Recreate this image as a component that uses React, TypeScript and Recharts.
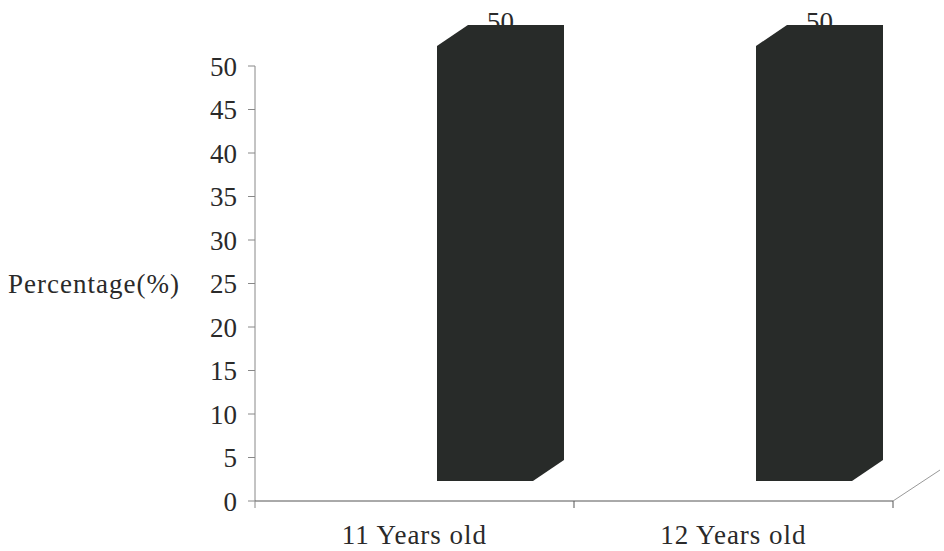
import { Bar, BarChart, XAxis, YAxis } from "recharts";

const ageGroups = ["11 Years old", "12 Years old"];
const percentages = [50, 50];
const yTicks = [0, 5, 10, 15, 20, 25, 30, 35, 40, 45, 50];

const data = ageGroups.map((age, i) => ({ age, pct: percentages[i] }));

const WIDTH = 944;
const HEIGHT = 551;
const MARGIN = { top: 66, right: 51, bottom: 0, left: 0 };
const Y_AXIS_W = 255;
const X_AXIS_H = 50;
const HALF_BAND = (WIDTH - MARGIN.right - Y_AXIS_W) / ageGroups.length / 2;

// the bars sit back from the floor edge, like the old 3-D column charts
const SHIFT_X = 70;
const SHIFT_Y = -20;
const DEPTH_X = 31;
const DEPTH_Y = -21;

const FONT = "'Liberation Serif', 'Times New Roman', serif";
const FONT_SIZE = 27;
const TEXT = "#2a2a2a";
const BAR_FILL = "#282b29";

// value label goes first so the column hides its lower edge, as in the scan
function Column3D(props: any) {
  const { x, y, width, height, payload } = props;
  const fx = x + SHIFT_X;
  const fy = y + SHIFT_Y;
  const fb = y + height + SHIFT_Y;
  const pts = [
    [fx, fy],
    [fx + DEPTH_X, fy + DEPTH_Y],
    [fx + width + DEPTH_X, fy + DEPTH_Y],
    [fx + width + DEPTH_X, fb + DEPTH_Y],
    [fx + width, fb],
    [fx, fb],
  ]
    .map((p) => p.join(","))
    .join(" ");
  return (
    <g>
      <text
        x={fx + (width + DEPTH_X) / 2}
        y={fy + DEPTH_Y + 6}
        textAnchor="middle"
        fontFamily={FONT}
        fontSize={FONT_SIZE}
        fill={TEXT}
      >
        {payload.pct}
      </text>
      <polygon points={pts} fill={BAR_FILL} />
    </g>
  );
}

function CategoryTick(props: any) {
  const { x, y, payload, index } = props;
  const edge = x + HALF_BAND;
  return (
    <g>
      <line x1={edge} y1={y} x2={edge} y2={y + 7} stroke="#555" />
      {index === ageGroups.length - 1 && (
        <line x1={edge} y1={y} x2={edge + 47} y2={y - 31} stroke="#999" />
      )}
      {index === 0 && <line x1={x - HALF_BAND} y1={y} x2={x - HALF_BAND} y2={y + 7} stroke="#888" />}
      <text
        x={x}
        y={y + 43}
        textAnchor="middle"
        fontFamily={FONT}
        fontSize={FONT_SIZE}
        letterSpacing={1}
        fill={TEXT}
      >
        {payload.value}
      </text>
    </g>
  );
}

export default function App() {
  return (
    <div style={{ position: "absolute", left: 0, top: 0, width: WIDTH, height: HEIGHT, background: "#fff" }}>
      <BarChart width={WIDTH} height={HEIGHT} data={data} margin={MARGIN}>
        <YAxis
          type="number"
          domain={[0, 50]}
          ticks={yTicks}
          interval={0}
          width={Y_AXIS_W}
          axisLine={{ stroke: "#888" }}
          tickLine={{ stroke: "#888" }}
          tickSize={7}
          tickMargin={11}
          tick={{ fontFamily: FONT, fontSize: FONT_SIZE, fill: TEXT }}
          label={{
            value: "Percentage(%)",
            position: "insideLeft",
            offset: 8,
            fontFamily: FONT,
            fontSize: FONT_SIZE,
            fill: TEXT,
            letterSpacing: 1,
          }}
        />
        <XAxis
          dataKey="age"
          height={X_AXIS_H}
          axisLine={{ stroke: "#555" }}
          tickLine={false}
          tickSize={0}
          tickMargin={0}
          interval={0}
          tick={<CategoryTick />}
        />
        <Bar dataKey="pct" barSize={96} shape={<Column3D />} isAnimationActive={false} />
      </BarChart>
    </div>
  );
}
